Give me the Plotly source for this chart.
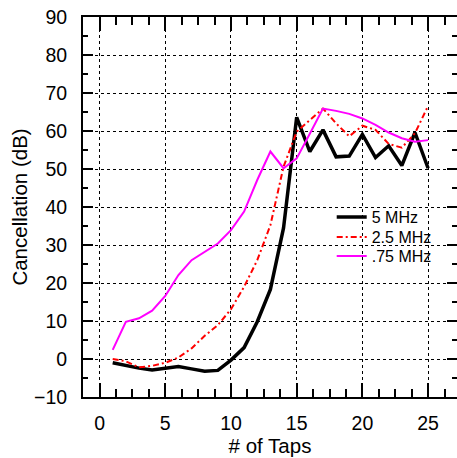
import plotly.graph_objects as go

taps = list(range(1, 26))
mhz5 = [-1.0, -1.8, -2.4, -2.9, -2.4, -2.0, -2.6, -3.2, -3.0, -0.3, 3.0, 9.8, 18.3, 34.5,
        63.6, 54.6, 60.3, 53.2, 53.4, 59.1, 53.0, 56.1, 50.9, 59.6, 50.2]
mhz25 = [0.0, -0.6, -2.2, -1.8, -1.0, 0.4, 2.8, 6.1, 8.9, 13.1, 19.0, 26.0, 35.2, 50.6,
         59.8, 62.9, 65.9, 62.0, 58.6, 61.4, 60.3, 56.6, 55.6, 59.4, 66.6]
mhz075 = [2.4, 9.8, 10.7, 12.7, 16.6, 22.1, 26.0, 28.2, 30.4, 33.9, 38.8, 47.1, 54.6, 50.2,
          52.8, 59.3, 65.9, 65.3, 64.5, 63.3, 61.6, 59.6, 58.1, 57.2, 57.6]

font = "Liberation Sans, Arial, sans-serif"

fig = go.Figure()
fig.add_trace(go.Scatter(x=taps, y=mhz5, mode="lines", name="5 MHz",
                         line=dict(color="black", width=3.5), legend="legend"))
fig.add_trace(go.Scatter(x=taps, y=mhz25, mode="lines", name="2.5 MHz",
                         line=dict(color="red", width=2, dash="6px,3px,2px,3px"),
                         legend="legend2"))
fig.add_trace(go.Scatter(x=taps, y=mhz075, mode="lines", name=".75 MHz",
                         line=dict(color="magenta", width=2), legend="legend3"))

axis_common = dict(
    showline=True, linecolor="black", linewidth=2, mirror="allticks",
    ticks="inside", tickwidth=2, tickcolor="black",
    showgrid=True, gridcolor="black", gridwidth=1, griddash="3px,3px",
    zeroline=False,
    tickfont=dict(family=font, size=19.5, color="black"),
)

fig.update_xaxes(range=[-1.26, 27.2], tick0=0, dtick=5, ticklen=14,
                 minor=dict(dtick=1.25, tick0=0, ticks="inside", ticklen=8,
                            tickwidth=2, tickcolor="black", showgrid=False),
                 ticklabelstandoff=8,
                 title=dict(text="# of Taps", font=dict(family=font, size=20.5, color="black"),
                            standoff=4),
                 **axis_common)
fig.update_yaxes(range=[-10, 90], tick0=0, dtick=10, ticklen=10,
                 minor=dict(dtick=5, tick0=0, ticks="inside", ticklen=5,
                            tickwidth=2, tickcolor="black", showgrid=False),
                 ticklabelstandoff=10,
                 title=dict(text="Cancellation (dB)", font=dict(family=font, size=20.5, color="black"),
                            standoff=1),
                 **axis_common)

leg_common = dict(x=0.665, xanchor="left", yanchor="middle",
                  bgcolor="rgba(0,0,0,0)", borderwidth=0,
                  font=dict(family=font, size=16, color="black"), itemwidth=30)

fig.update_layout(
    width=457, height=458,
    margin=dict(l=83, r=0, t=17, b=61, autoexpand=False),
    paper_bgcolor="white", plot_bgcolor="white",
    showlegend=True,
    legend=dict(y=0.4737, **leg_common),
    legend2=dict(y=0.421, **leg_common),
    legend3=dict(y=0.371, **leg_common),
)

fig.write_html("out.html")
